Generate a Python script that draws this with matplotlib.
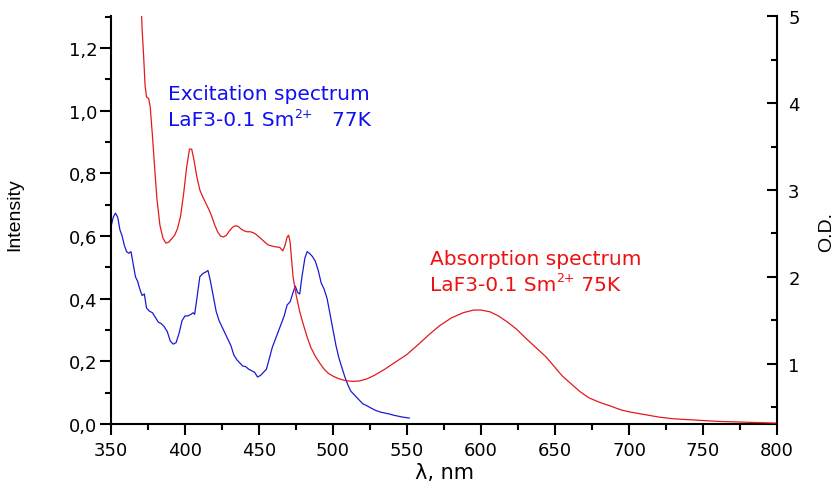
import numpy as np
from matplotlib import pyplot as plt
from matplotlib.ticker import MultipleLocator, FuncFormatter

plt.rcParams['font.family'] = ['DejaVu Sans']

# Excitation spectrum, LaF3-0.1 Sm2+ at 77K (left axis)
exc_wl = [350, 351.5, 353, 354.5, 356, 357.5, 359, 360.5, 362, 363.5, 365, 366.5,
          368, 369.5, 371, 372.5, 374, 376, 378, 380, 382, 384, 386, 388, 390, 392,
          394, 396, 398, 400, 402, 404, 405.5, 406.5, 408, 410, 412, 414, 415.5, 417,
          419, 421, 423, 425, 427, 429, 431, 433, 435, 437, 439, 441, 443, 445, 447,
          449, 451, 453, 455, 457, 459, 461, 463, 465, 467, 469, 471, 473, 474.5, 476,
          477.5, 479, 481, 482.5, 484, 486, 488, 490, 492, 494, 496, 498, 500, 502,
          504, 506, 508, 510, 512, 514, 516, 518, 520, 523, 526, 529, 532, 535, 538,
          541, 544, 547, 550, 551.5]
exc_int = [0.63, 0.66, 0.673, 0.66, 0.62, 0.60, 0.57, 0.55, 0.545, 0.55, 0.51, 0.47,
           0.455, 0.43, 0.41, 0.415, 0.37, 0.36, 0.355, 0.34, 0.325, 0.32, 0.31, 0.295,
           0.265, 0.255, 0.26, 0.29, 0.33, 0.345, 0.345, 0.35, 0.355, 0.35, 0.40, 0.47,
           0.48, 0.485, 0.49, 0.46, 0.41, 0.36, 0.33, 0.31, 0.29, 0.27, 0.25, 0.22,
           0.205, 0.195, 0.185, 0.183, 0.175, 0.17, 0.165, 0.15, 0.155, 0.165, 0.175,
           0.21, 0.245, 0.27, 0.295, 0.32, 0.345, 0.38, 0.39, 0.42, 0.44, 0.42, 0.415,
           0.47, 0.53, 0.55, 0.545, 0.535, 0.52, 0.49, 0.45, 0.43, 0.40, 0.35, 0.30,
           0.25, 0.21, 0.18, 0.15, 0.125, 0.105, 0.095, 0.085, 0.075, 0.065, 0.058,
           0.05, 0.043, 0.038, 0.035, 0.032, 0.028, 0.025, 0.022, 0.02, 0.019]

# Absorption spectrum, LaF3-0.1 Sm2+ at 75K (right axis, optical density)
abs_wl = [370.3, 371, 372, 373, 374, 375.5, 376.5, 378, 379.5, 381, 383, 385, 387, 389,
          391, 393, 395, 397, 399, 401, 403, 404.5, 406, 408, 410, 412, 414, 416, 418,
          420, 422, 424, 426, 428, 430, 432, 434, 436, 438, 440, 442, 444, 446, 448,
          450, 452, 454, 456, 458, 460, 462, 464, 466, 467.5, 469, 470, 471, 472, 473,
          475, 477.5, 480, 482.5, 485, 488, 491, 494, 497, 500, 504, 508, 513, 518,
          523, 528, 535, 542, 550, 558, 565, 572, 580, 588, 595, 600, 606, 612, 618,
          624, 630, 637, 644, 650, 655, 661, 667, 673, 680, 685, 687, 690, 695, 700,
          710, 720, 730, 740, 750, 760, 770, 780, 790, 800]
abs_od = [5.15, 4.85, 4.55, 4.2, 4.07, 4.05, 3.95, 3.62, 3.25, 2.9, 2.6, 2.45, 2.39,
          2.40, 2.44, 2.48, 2.56, 2.70, 2.95, 3.25, 3.47, 3.47, 3.35, 3.15, 3.0, 2.92,
          2.85, 2.78, 2.70, 2.60, 2.52, 2.47, 2.46, 2.48, 2.53, 2.57, 2.59, 2.58, 2.55,
          2.53, 2.52, 2.52, 2.51, 2.49, 2.46, 2.43, 2.40, 2.37, 2.36, 2.35, 2.345, 2.34,
          2.30, 2.36, 2.46, 2.48, 2.40, 2.20, 2.00, 1.80, 1.60, 1.45, 1.31, 1.19, 1.09,
          1.01, 0.94, 0.89, 0.86, 0.83, 0.81, 0.80, 0.805, 0.83, 0.87, 0.94, 1.02, 1.11,
          1.23, 1.34, 1.44, 1.53, 1.59, 1.62, 1.62, 1.60, 1.55, 1.48, 1.40, 1.30, 1.19,
          1.08, 0.96, 0.86, 0.77, 0.68, 0.61, 0.56, 0.53, 0.52, 0.50, 0.47, 0.45, 0.42,
          0.39, 0.37, 0.36, 0.35, 0.34, 0.335, 0.33, 0.325, 0.32]

blue = '#1a1ad6'
red = '#e31a1c'

fig = plt.figure(figsize=(8.36, 4.85), dpi=100)
ax = fig.add_axes([0.1328, 0.1237, 0.7967, 0.8412])
ax2 = ax.twinx()

ax.plot(exc_wl, exc_int, color=blue, lw=0.9)
ax2.plot(abs_wl, abs_od, color=red, lw=0.9)

ax.set_xlim(350, 800)
ax.set_ylim(0, 1.302)
ax2.set_ylim(0.31, 5.0)

ax.xaxis.set_major_locator(MultipleLocator(50))
ax.xaxis.set_minor_locator(MultipleLocator(25))
ax.yaxis.set_major_locator(MultipleLocator(0.2))
ax.yaxis.set_minor_locator(MultipleLocator(0.1))
ax.yaxis.set_major_formatter(FuncFormatter(lambda v, p: f"{v:.1f}".replace('.', ',')))
ax2.yaxis.set_major_locator(MultipleLocator(1))
ax2.yaxis.set_minor_locator(MultipleLocator(0.5))

for a in (ax, ax2):
    for s in a.spines.values():
        s.set_visible(False)
        s.set_linewidth(1.5)
ax.spines['left'].set_visible(True)
ax.spines['bottom'].set_visible(True)
ax2.spines['right'].set_visible(True)

ax.tick_params(axis='x', which='major', direction='out', length=8, width=1.5,
               labelsize=13, pad=4)
ax.tick_params(axis='x', which='minor', direction='out', length=4.5, width=1.5)
ax.tick_params(axis='y', which='major', direction='out', length=8, width=1.5,
               labelsize=13, pad=2)
ax.tick_params(axis='y', which='minor', direction='out', length=4.5, width=1.5)
ax2.tick_params(axis='y', which='major', direction='in', length=7.5, width=1.5,
                labelsize=13, pad=8)
ax2.tick_params(axis='y', which='minor', direction='in', length=4.5, width=1.5)

ax.set_xlabel("λ, nm", fontsize=15)
ax.xaxis.set_label_coords(0.5, -0.093)
ax.set_ylabel("Intensity", fontsize=14, family=['Liberation Sans'])
ax.yaxis.set_label_coords(-0.132, 0.515)
ax2.set_ylabel("O.D.", fontsize=14, family=['Liberation Sans'], rotation=90)
ax2.yaxis.set_label_coords(1.0616, 0.473)

W, H = 836, 485
renderer = fig.canvas.get_renderer()

def put(x, y, parts, c):
    # parts: list of (text, is_superscript); each piece starts where the last ended
    for s, sup in parts:
        size = 9 if sup else 14.5
        dy = 9 if sup else 0
        t = fig.text(x / W, 1 - (y - dy) / H, s, color=c, fontsize=size,
                     ha='left', va='baseline')
        x += t.get_window_extent(renderer).width

put(168, 100, [("Excitation spectrum", False)], '#1010ee')
put(168, 126.5, [("LaF3-0.1 Sm", False), ("2+", True), ("   77K", False)], '#1010ee')
put(430, 265, [("Absorption spectrum", False)], '#ee1111')
put(430, 291.5, [("LaF3-0.1 Sm", False), ("2+", True), (" 75K", False)], '#ee1111')

fig.savefig("out.png", dpi=100)
